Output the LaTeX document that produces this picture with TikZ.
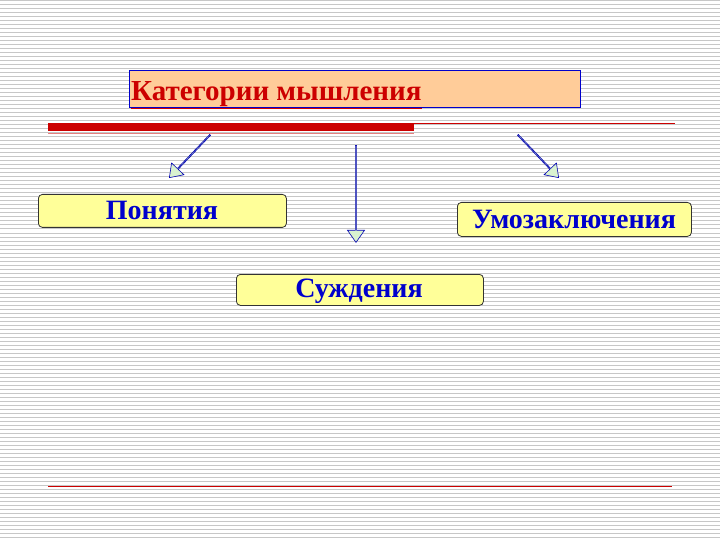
\documentclass[tikz,border=0pt]{standalone}
\usepackage{fontspec}
\setmainfont{Liberation Serif}
\usetikzlibrary{shapes.arrows}
\definecolor{peach}{HTML}{FFCC99}
\definecolor{lyel}{HTML}{FFFF99}
\definecolor{dred}{HTML}{CC0000}
\definecolor{tblue}{HTML}{0000CC}
\definecolor{lgreen}{HTML}{D9F2D0}
\begin{document}
\begin{tikzpicture}[x=1pt,y=-1pt,
  box/.style={draw=black!80,fill=lyel,rounded corners=4pt,line width=0.8pt,inner sep=0pt},
  lbl/.style={text=tblue,font=\bfseries\fontsize{28}{28}\selectfont,inner sep=0pt},
  barrow/.style={single arrow,draw=blue!70!black,fill=lgreen,line width=0.6pt,minimum width=17pt,single arrow head extend=4pt,inner sep=0pt,single arrow tip angle=70}]
\useasboundingbox (0,0) rectangle (720,540);
\fill[white] (0,0) rectangle (720,540);
\foreach \y in {1,5,...,540} \draw[black!22,line width=1pt] (0,\y) -- (720,\y);
\node[draw=blue!80!black,fill=peach,line width=0.8pt,minimum width=451pt,minimum height=37pt,inner sep=0pt] (title) at (354.5,88.5) {};
\node[anchor=base west,text=dred,font=\bfseries\fontsize{29}{29}\selectfont,inner sep=0pt] (tt) at (131,101) {\underline{Категории мышления}};
\fill[dred] (48,123) rectangle (414,131);
\draw[dred,line width=0.6pt] (414,123.5) -- (675,123.5);
\draw[dred!50,line width=0.5pt] (48,133) -- (414,133);
\draw[dred,line width=0.6pt] (48,486) -- (672,486);
\node[box,minimum width=248pt,minimum height=33pt,anchor=north west] (p) at (38,194) {};
\node[lbl] at (162,210) {Понятия};
\node[box,minimum width=234pt,minimum height=34pt,anchor=north west] (u) at (457,202) {};
\node[lbl] at (574,219) {Умозаключения};
\node[box,minimum width=247pt,minimum height=31pt,anchor=north west] (s) at (236,274) {};
\node[lbl] at (359,291) {Суждения};
\node[barrow,minimum height=59pt,rotate=-133.6] (a1) at (190,156) {};
\node[barrow,minimum height=97pt,rotate=-90] (a2) at (356,193.5) {};
\node[barrow,minimum height=59pt,rotate=-46.4] (a3) at (538,156) {};
\end{tikzpicture}
\end{document}
